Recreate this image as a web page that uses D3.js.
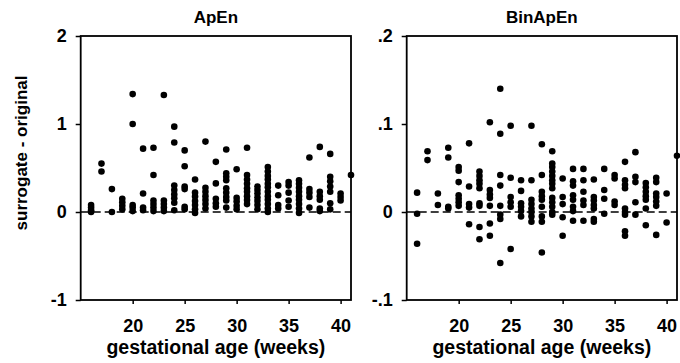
<!DOCTYPE html>
<html>
<head>
<meta charset="utf-8">
<script src="https://cdn.jsdelivr.net/npm/d3@7"></script>
<style>
  body { margin: 0; background: #fff; }
  svg { display: block; font-family: "Liberation Sans", Arial, sans-serif; font-weight: bold; }
  .tick text { font-size: 18px; font-weight: bold; }
</style>
</head>
<body>
<div id="chart"></div>
<script>
// gestational age (weeks) shared by both panels
const weeks = [16, 17, 18, 19, 20, 21, 22, 23, 24, 25, 26, 27, 28,
               29, 30, 31, 32, 33, 34, 35, 36, 37, 38, 39, 40, 41];

// ApEn: surrogate - original, one list per week
const apenValues = [
  [0.08, 0.05, 0.02, 0.0],
  [0.55, 0.46],
  [0.26, 0.0],
  [0.15, 0.11, 0.07, 0.03],
  [1.34, 1.0, 0.08, 0.05, 0.01],
  [0.72, 0.21, 0.05, 0.02],
  [0.73, 0.42, 0.13, 0.09, 0.05, 0.01],
  [1.33, 0.13, 0.09, 0.05, 0.01],
  [0.97, 0.79, 0.30, 0.25, 0.20, 0.155, 0.105, 0.02],
  [0.70, 0.52, 0.29, 0.26, 0.06, 0.03],
  [0.37, 0.22, 0.175, 0.125, 0.08, 0.03, -0.01],
  [0.80, 0.275, 0.23, 0.18, 0.135, 0.09, 0.04],
  [0.57, 0.325, 0.15, 0.10, 0.06],
  [0.71, 0.44, 0.40, 0.36, 0.27, 0.22, 0.17, 0.13, 0.05],
  [0.485, 0.16, 0.12, 0.07, 0.03],
  [0.73, 0.42, 0.37, 0.32, 0.27, 0.23, 0.18, 0.135, 0.09],
  [0.29, 0.25, 0.21, 0.165, 0.125, 0.08, 0.03],
  [0.51, 0.46, 0.41, 0.37, 0.32, 0.28, 0.23, 0.18, 0.14, 0.09, 0.04, 0.0],
  [0.30, 0.19, 0.08, 0.04],
  [0.34, 0.30, 0.22, 0.13, 0.06],
  [0.36, 0.32, 0.275, 0.23, 0.18, 0.14, 0.09, 0.04, -0.01],
  [0.62, 0.26, 0.22, 0.17, 0.05],
  [0.74, 0.23, 0.18, 0.14, 0.04, 0.01],
  [0.66, 0.40, 0.35, 0.29, 0.23, 0.10, 0.03],
  [0.21, 0.17, 0.13],
  [0.42]
];

// BinApEn: surrogate - original, one list per week
const binApenValues = [
  [0.022, -0.002, -0.036],
  [0.069, 0.059],
  [0.021, 0.008],
  [0.073, 0.062, 0.006, 0.004],
  [0.051, 0.047, 0.034, 0.019, 0.015, 0.011, 0.007],
  [0.078, 0.029, 0.009, 0.005, -0.014],
  [0.046, 0.041, 0.036, 0.032, 0.027, 0.010, 0.007, -0.017, -0.031],
  [0.102, 0.025, 0.020, 0.016, 0.007, -0.013, -0.027],
  [0.14, 0.089, 0.042, 0.030, 0.007, -0.003, -0.008, -0.058],
  [0.098, 0.039, 0.017, 0.011, 0.006, -0.042],
  [0.036, 0.024, 0.010, 0.006, 0.001, -0.005],
  [0.098, 0.036, 0.014, 0.009, 0.004, 0.0, -0.005, -0.011],
  [0.077, 0.042, 0.023, 0.018, 0.014, 0.006, -0.005, -0.011, -0.046],
  [0.069, 0.055, 0.051, 0.046, 0.041, 0.036, 0.032, 0.027, 0.016, 0.011, 0.006, 0.0, -0.003],
  [0.038, 0.017, 0.009, -0.006, -0.027],
  [0.049, 0.035, 0.030, 0.019, 0.014, 0.006, 0.001, -0.010],
  [0.049, 0.036, 0.023, 0.013, 0.008, -0.010],
  [0.037, 0.017, 0.013, 0.008, 0.004, -0.008, -0.011],
  [0.049, 0.025, 0.015, -0.002],
  [0.042, 0.038, 0.012, 0.008],
  [0.057, 0.036, 0.031, 0.027, 0.004, 0.0, -0.003, -0.022, -0.027],
  [0.068, 0.040, 0.034, 0.011, -0.003],
  [0.033, 0.028, 0.023, 0.018, 0.014, 0.004, -0.015],
  [0.039, 0.034, 0.021, 0.017, 0.012, 0.007, -0.026],
  [0.021, -0.012],
  [0.064]
];

const xTicks = [20, 25, 30, 35, 40];
const apenTicks = [-1, 0, 1, 2];
const apenTickLabels = ["-1", "0", "1", "2"];
const binTicks = [-0.1, 0, 0.1, 0.2];
const binTickLabels = ["-.1", "0", ".1", ".2"];

const width = 680, height = 363;
const plotTop = 36, plotBottom = 300;

const svg = d3.select("#chart")
  .append("svg")
  .attr("width", width)
  .attr("height", height);

function flatten(values) {
  const pts = [];
  values.forEach((list, i) => list.forEach(v => pts.push({week: weeks[i], value: v})));
  return pts;
}

function drawPanel(opts) {
  const x = d3.scaleLinear().domain([15, 41]).range([opts.left, opts.right]);
  const y = d3.scaleLinear().domain(opts.yDomain).range([plotBottom, plotTop]);
  const g = svg.append("g");

  // dashed zero line
  g.append("line")
    .attr("x1", opts.left).attr("x2", opts.right)
    .attr("y1", y(0)).attr("y2", y(0))
    .attr("stroke", "#000")
    .attr("stroke-width", 1.6)
    .attr("stroke-dasharray", "8,4");

  g.selectAll("circle.pt").data(flatten(opts.values)).enter()
    .append("circle")
    .attr("class", "pt")
    .attr("cx", d => x(d.week))
    .attr("cy", d => y(d.value))
    .attr("r", 3.3)
    .attr("fill", "#000");

  // frame
  g.append("rect")
    .attr("x", opts.left).attr("y", plotTop)
    .attr("width", opts.right - opts.left)
    .attr("height", plotBottom - plotTop)
    .attr("fill", "none")
    .attr("stroke", "#000")
    .attr("stroke-width", 1.8);

  const xAxis = g.append("g")
    .attr("transform", `translate(0,${plotBottom})`)
    .call(d3.axisBottom(x).tickValues(xTicks).tickSize(4).tickPadding(15));
  xAxis.select(".domain").remove();
  xAxis.selectAll(".tick line").attr("stroke-width", 1.5);

  const yAxis = g.append("g")
    .attr("transform", `translate(${opts.left},0)`)
    .call(d3.axisLeft(y).tickValues(opts.ticks)
      .tickFormat((d, i) => opts.tickLabels[i])
      .tickSize(5).tickPadding(9));
  yAxis.select(".domain").remove();
  yAxis.selectAll(".tick line").attr("stroke-width", 1.5);

  svg.append("text")
    .attr("x", (opts.left + opts.right) / 2)
    .attr("y", 23)
    .attr("text-anchor", "middle")
    .attr("font-size", 17)
    .text(opts.title);

  svg.append("text")
    .attr("x", (opts.left + opts.right) / 2)
    .attr("y", 354)
    .attr("text-anchor", "middle")
    .attr("font-size", 19.5)
    .text("gestational age (weeks)");
}

drawPanel({left: 80.7, right: 351, yDomain: [-1, 2], values: apenValues,
           ticks: apenTicks, tickLabels: apenTickLabels, title: "ApEn"});
drawPanel({left: 406.7, right: 677, yDomain: [-0.1, 0.2], values: binApenValues,
           ticks: binTicks, tickLabels: binTickLabels, title: "BinApEn"});

svg.append("text")
  .attr("transform", "translate(27,153) rotate(-90)")
  .attr("text-anchor", "middle")
  .attr("font-size", 17)
  .text("surrogate - original");
</script>
</body>
</html>
